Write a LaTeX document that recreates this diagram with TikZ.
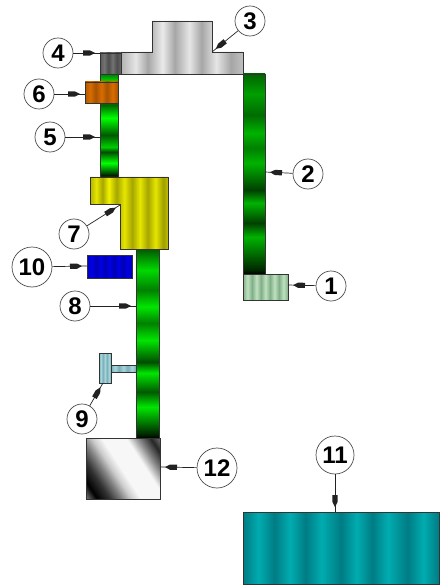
\documentclass[tikz,border=0pt]{standalone}
\usepackage{fontspec}
\setmainfont{Liberation Sans}
\usetikzlibrary{arrows.meta}
\usetikzlibrary{decorations.markings}

\definecolor{edgegrey}{HTML}{333333}
\definecolor{lineblack}{HTML}{222222}
\definecolor{steellight}{HTML}{A8D4DA}
\definecolor{steeldark}{HTML}{78B0BA}
\definecolor{palelight}{HTML}{C0E0C0}
\definecolor{paledark}{HTML}{80B088}
\definecolor{teallight}{HTML}{00ACB0}
\definecolor{tealdark}{HTML}{007C84}
\pgfdeclareverticalshading{greenlong}{100bp}{color(0bp)=(black);color(25bp)=(black);color(26bp)=(black!85!green);color(34.25bp)=(green!70!black);color(37.75bp)=(green!25!black);color(42.75bp)=(green!70!black);color(46bp)=(green!25!black);color(52.75bp)=(green!70!black);color(56.5bp)=(green!50!black);color(60.25bp)=(green!70!black);color(64.75bp)=(green!42!black);color(70bp)=(green!62!black);color(75bp)=(green!40!black);color(100bp)=(green!40!black)}
\pgfdeclareverticalshading{greenlower}{100bp}{color(0bp)=(black);color(25bp)=(black);color(26bp)=(black!85!green);color(33.2bp)=(green!90!black);color(37.2bp)=(green!35!black);color(42.2bp)=(green!90!black);color(45.1bp)=(green!30!black);color(50.9bp)=(green!90!black);color(55.4bp)=(green!50!black);color(59.7bp)=(green!90!black);color(64.2bp)=(green!50!black);color(69.4bp)=(green!85!black);color(75bp)=(green!35!black);color(100bp)=(green!35!black)}
\pgfdeclareverticalshading{greenupper}{100bp}{color(0bp)=(black);color(25bp)=(black);color(31.8bp)=(green);color(37.2bp)=(green!30!black);color(39.6bp)=(green!80!black);color(45.4bp)=(green!35!black);color(53.7bp)=(green);color(60bp)=(green!40!black);color(72bp)=(green!80!black);color(75bp)=(green!50!black);color(100bp)=(green!50!black)}
\pgfdeclarehorizontalshading{woodgrey}{100bp}{color(0bp)=(black!35);color(25bp)=(black!30);color(31bp)=(black!10);color(36bp)=(black!35);color(42bp)=(black!8);color(47bp)=(black!35);color(53bp)=(black!10);color(58bp)=(black!35);color(64bp)=(black!10);color(70bp)=(black!35);color(75bp)=(black!25);color(100bp)=(black!25)}
\pgfdeclarehorizontalshading{wooddark}{100bp}{color(0bp)=(black!60);color(25bp)=(black!65);color(35bp)=(black!55);color(45bp)=(black!70);color(55bp)=(black!55);color(65bp)=(black!70);color(75bp)=(black!60);color(100bp)=(black!60)}
\pgfdeclarehorizontalshading{woodorange}{100bp}{color(0bp)=(orange!70!black);color(25bp)=(orange!70!black);color(33bp)=(orange!85!black);color(41bp)=(orange!65!black);color(50bp)=(orange!85!black);color(58bp)=(orange!65!black);color(67bp)=(orange!85!black);color(75bp)=(orange!65!black);color(100bp)=(orange!65!black)}
\pgfdeclarehorizontalshading{woodyellow}{100bp}{color(0bp)=(yellow!65!black);color(25bp)=(yellow!70!black);color(29bp)=(yellow!90!black);color(33bp)=(yellow!65!black);color(37bp)=(yellow!95!black);color(42bp)=(yellow!65!black);color(47bp)=(yellow!90!black);color(52bp)=(yellow!65!black);color(57bp)=(yellow!90!black);color(62bp)=(yellow!65!black);color(67bp)=(yellow!90!black);color(72bp)=(yellow!62!black);color(75bp)=(yellow!75!black);color(100bp)=(yellow!75!black)}
\pgfdeclarehorizontalshading{woodblue}{100bp}{color(0bp)=(blue!75!black);color(25bp)=(blue!75!black);color(30bp)=(blue!90!black);color(35bp)=(blue!70!black);color(40bp)=(blue!90!black);color(45bp)=(blue!70!black);color(50bp)=(blue!90!black);color(55bp)=(blue!70!black);color(60bp)=(blue!90!black);color(65bp)=(blue!70!black);color(70bp)=(blue!90!black);color(75bp)=(blue!70!black);color(100bp)=(blue!70!black)}
\pgfdeclarehorizontalshading{woodpale}{100bp}{color(0bp)=(paledark);color(25bp)=(paledark);color(30bp)=(palelight);color(35bp)=(paledark);color(40bp)=(palelight);color(45bp)=(paledark);color(50bp)=(palelight);color(55bp)=(paledark);color(60bp)=(palelight);color(65bp)=(paledark);color(70bp)=(palelight);color(75bp)=(paledark);color(100bp)=(paledark)}
\pgfdeclarehorizontalshading{woodsteel}{100bp}{color(0bp)=(steeldark);color(25bp)=(steeldark);color(33bp)=(steellight);color(41bp)=(steeldark);color(50bp)=(steellight);color(58bp)=(steeldark);color(67bp)=(steellight);color(75bp)=(steeldark);color(100bp)=(steeldark)}
\pgfdeclarehorizontalshading{woodteal}{100bp}{color(0bp)=(tealdark);color(25bp)=(tealdark);color(29bp)=(teallight);color(33bp)=(tealdark);color(37bp)=(teallight);color(41bp)=(tealdark);color(45bp)=(teallight);color(50bp)=(tealdark);color(54bp)=(teallight);color(58bp)=(tealdark);color(62bp)=(teallight);color(67bp)=(tealdark);color(71bp)=(teallight);color(75bp)=(tealdark);color(100bp)=(tealdark)}
\pgfdeclarehorizontalshading{metalblock}{100bp}{color(0bp)=(black!50);color(15bp)=(black!50);color(22bp)=(black);color(30bp)=(black!80);color(37bp)=(black!50);color(43bp)=(black!20);color(49bp)=(black!3);color(64bp)=(black!3);color(72bp)=(black!50);color(79bp)=(black!85);color(86bp)=(black!50);color(100bp)=(black!50)}

\tikzset{
	part/.style={draw=edgegrey,line width=0.9pt},
	balloon/.style={circle,draw=black!70,fill=white,line width=0.7pt,inner sep=0pt,font=\fontsize{24}{24}\selectfont\bfseries},
	leader/.style={draw=lineblack,line width=0.7pt,postaction={decorate},decoration={markings,mark=at position 1 with {\fill[lineblack] (-5pt,0pt) -- (-10pt,2.6pt) -- (-17pt,2.6pt) -- (-17pt,-2.6pt) -- (-10pt,-2.6pt) -- cycle;}}}
}

\begin{document}
\begin{tikzpicture}[x=1pt,y=-1pt]
	\useasboundingbox (0,0) rectangle (439,585);
	% columns
	\path[part,shading=greenupper] (100,74) rectangle (118,177);
	\path[part,shading=greenlong] (243,74) rectangle (265,274);
	\path[part,shading=greenlower] (136,249) rectangle (159,438);
	% blocks
	\path[part,shading=woodgrey] (121,52) -- (152,52) -- (152,21) -- (212,21) -- (212,52) -- (243,52) -- (243,74) -- (121,74) -- cycle;
	\path[part,shading=wooddark] (100,53) rectangle (121,74);
	\path[part,shading=woodorange] (85,82) rectangle (118,103);
	\path[part,shading=woodyellow] (90,177) -- (168,177) -- (168,249) -- (120,249) -- (120,204) -- (90,204) -- cycle;
	\path[part,shading=woodblue] (87,255) rectangle (132,278);
	\path[part,shading=woodpale] (243,274) rectangle (288,300);
	\path[part,shading=woodsteel] (111,365) rectangle (136,372);
	\path[part,shading=woodsteel] (99,353) rectangle (111,383);
	\path[part,shading=metalblock,shading angle=33] (86,438) rectangle (160,499);
	\path[part,shading=woodteal] (243,512) rectangle (439,584);
	% balloons
	\foreach \n / \size / \bx / \by / \px / \py in {1/30/331/286/288/285,2/30/308/174/265/172,3/30/250/21/212/52,4/30/58/53/100/53,5/30/50/137/100/137,6/30/39/94/85/94,7/30/74/234/120/205,8/30/75/306/136/306,9/30/82/419/103/383,10/40/32/267/87/266,11/38/335/455/335/512,12/40/217/468/160/467} {
		\node [balloon,minimum size=\size pt] (b\n) at (\bx,\by) {\n};
		\coordinate (p\n) at (\px,\py);
		\draw [leader] (b\n) -- (p\n);
	}
\end{tikzpicture}
\end{document}
